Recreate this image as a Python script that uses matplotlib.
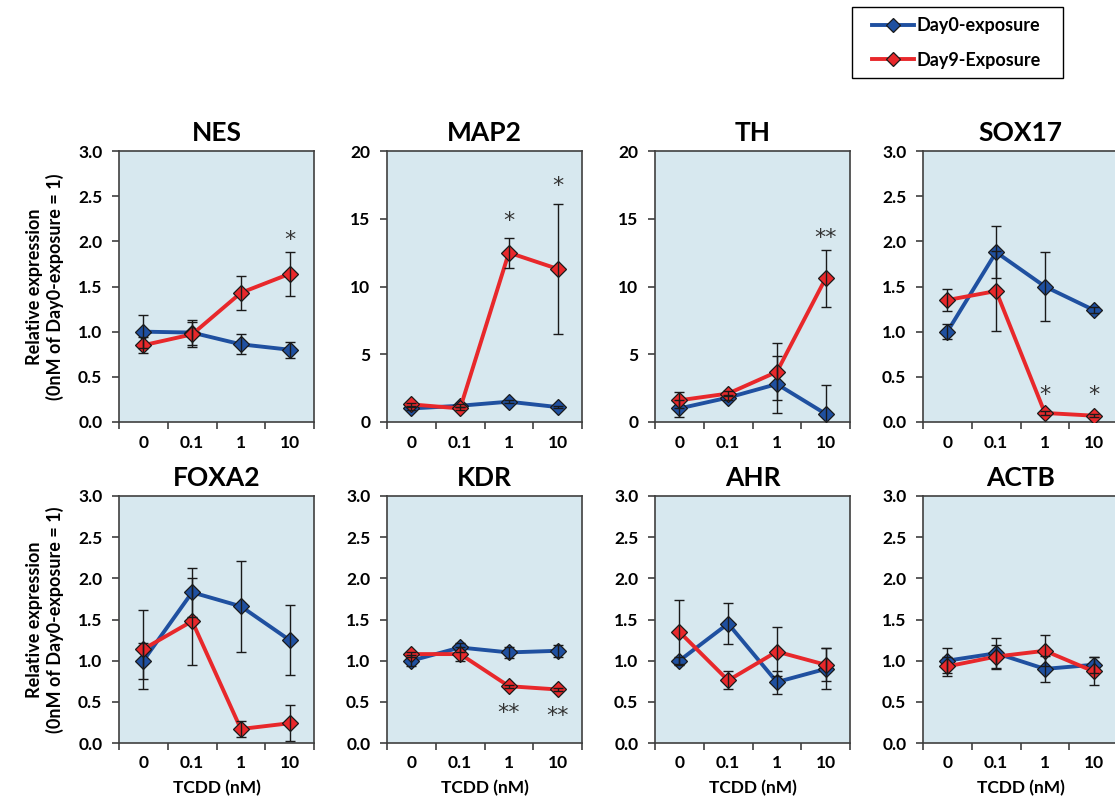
import numpy as np
import matplotlib
matplotlib.use('Agg')
from matplotlib import pyplot as plt
from matplotlib.lines import Line2D
from matplotlib.patches import Rectangle

plt.rcParams['font.family'] = ['Lato', 'DejaVu Sans']
plt.rcParams['font.weight'] = 'bold'

doses = ['0', '0.1', '1', '10']
genes = ['NES', 'MAP2', 'TH', 'SOX17', 'FOXA2', 'KDR', 'AHR', 'ACTB']
ymax = [3, 20, 20, 3, 3, 3, 3, 3]

day0_mean = [
	[1.00, 0.99, 0.86, 0.80],
	[1.0, 1.2, 1.5, 1.1],
	[1.0, 1.8, 2.8, 0.6],
	[1.00, 1.88, 1.50, 1.24],
	[1.00, 1.83, 1.66, 1.25],
	[1.00, 1.16, 1.10, 1.12],
	[1.00, 1.45, 0.74, 0.90],
	[1.00, 1.09, 0.90, 0.95],
]
day0_err = [
	[0.18, 0.14, 0.11, 0.09],
	[0.1, 0.1, 0.1, 0.1],
	[0.6, 0.2, 2.1, 2.1],
	[0.08, 0.29, 0.38, 0.03],
	[0.22, 0.30, 0.55, 0.43],
	[0.07, 0.05, 0.07, 0.07],
	[0.05, 0.25, 0.14, 0.25],
	[0.15, 0.19, 0.16, 0.10],
]
day9_mean = [
	[0.85, 0.97, 1.43, 1.64],
	[1.3, 1.0, 12.5, 11.3],
	[1.6, 2.1, 3.7, 10.6],
	[1.35, 1.45, 0.10, 0.07],
	[1.14, 1.48, 0.17, 0.24],
	[1.08, 1.08, 0.69, 0.65],
	[1.35, 0.76, 1.11, 0.95],
	[0.93, 1.05, 1.12, 0.87],
]
day9_err = [
	[0.09, 0.14, 0.19, 0.24],
	[0.1, 0.1, 1.1, 4.8],
	[0.6, 0.2, 2.1, 2.1],
	[0.12, 0.44, 0.02, 0.02],
	[0.48, 0.53, 0.10, 0.22],
	[0.03, 0.08, 0.02, 0.02],
	[0.39, 0.11, 0.30, 0.20],
	[0.12, 0.14, 0.19, 0.17],
]
# significance marks: (gene index, dose index, y position, text)
stars = [
	(0, 3, 2.02, '*'),
	(1, 2, 14.8, '*'),
	(1, 3, 17.4, '*'),
	(2, 3, 13.6, '**'),
	(3, 2, 0.30, '*'),
	(3, 3, 0.30, '*'),
	(5, 2, 0.36, '**'),
	(5, 3, 0.33, '**'),
]

W, H = 1115, 802
fig = plt.figure(figsize=(W/100, H/100), dpi=100)

blue = '#1f50a0'
red = '#e8282b'
bg = '#d7e8ef'
spine = '#404040'

lefts = [119, 387, 655, 923]
rows = [(151, 422), (496, 743)]
aw = 195

axes = []
for k, g in enumerate(genes):
	r, c = divmod(k, 4)
	top, bot = rows[r]
	ax = fig.add_axes([lefts[c]/W, 1-bot/H, aw/W, (bot-top)/H])
	ax.set_facecolor(bg)
	x = np.arange(4) + 0.5
	for mean, err, col in [(day0_mean[k], day0_err[k], blue), (day9_mean[k], day9_err[k], red)]:
		ax.plot(x, mean, color=col, lw=2.8, marker='D', ms=8.5, mfc=col, mec='#1a1a1a', mew=0.9, zorder=3)
		ax.errorbar(x, mean, yerr=err, fmt='none', ecolor='#1a1a1a', elinewidth=1.0, capsize=3.5, capthick=1.0, zorder=4)
	ax.set_xlim(0, 4)
	ax.set_ylim(0, ymax[k])
	if ymax[k] == 3:
		ax.set_yticks(np.arange(0, 3.01, 0.5))
		ax.set_yticklabels(['%.1f' % v for v in np.arange(0, 3.01, 0.5)])
	else:
		ax.set_yticks([0, 5, 10, 15, 20])
	ax.set_xticks([0, 1, 2, 3, 4])
	ax.set_xticklabels([])
	ax.set_xticks(x, minor=True)
	ax.set_xticklabels(doses, minor=True)
	ax.tick_params(axis='x', which='major', direction='out', length=5, width=1.2, color=spine)
	ax.tick_params(axis='x', which='minor', length=0, pad=9, labelsize=12.5)
	ax.tick_params(axis='y', direction='out', length=5, width=1.2, color=spine, labelsize=12.5, pad=7)
	for s in ax.spines.values():
		s.set_color(spine)
		s.set_linewidth(1.2)
	ax.set_title(g, fontsize=19, fontweight='bold', pad=7)
	if r == 1:
		ax.set_xlabel('TCDD (nM)', fontsize=12.5, fontweight='bold', labelpad=6)
	if c == 0:
		ax.set_ylabel('Relative expression\n(0nM of Day0-exposure = 1)', fontsize=13, fontweight='bold', labelpad=10)
	axes.append(ax)

for k, d, y, t in stars:
	axes[k].text(d + 0.5, y, t, ha='center', va='center', fontsize=16, color='#333333',
		family='DejaVu Sans', fontweight='normal')

# legend box drawn separately so its size matches the reference
fig.patches.append(Rectangle((852/W, 1-78/H), 211/W, 71/H, transform=fig.transFigure,
	facecolor='white', edgecolor='black', lw=1.0))

handles = [
	Line2D([], [], color=blue, lw=2.8, marker='D', ms=7.5, mfc=blue, mec='#1a1a1a', mew=0.9),
	Line2D([], [], color=red, lw=2.8, marker='D', ms=7.5, mfc=red, mec='#1a1a1a', mew=0.9),
]
leg = fig.legend(handles, ['Day0-exposure', 'Day9-Exposure'], loc='center left',
	bbox_to_anchor=(872/W, 1-43/H), frameon=False,
	fontsize=13, handlelength=2.3, handletextpad=0.15, borderpad=0, labelspacing=0.95,
	borderaxespad=0)

fig.savefig('out.png', dpi=100)
